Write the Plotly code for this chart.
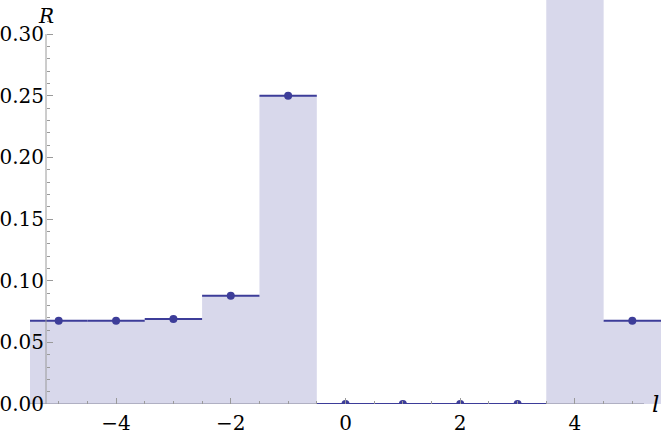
import plotly.graph_objects as go

# data
l_values = [-5, -4, -3, -2, -1, 0, 1, 2, 3, 4, 5]
R_values = [0.0675, 0.0675, 0.069, 0.0877, 0.25, 0.0, 0.0, 0.0, 0.0, 0.39, 0.0675]
x_tick_vals = [-4, -2, 0, 2, 4]
x_tick_text = ["\u22124", "\u22122", "0", "2", "4"]
y_tick_vals = [0.00, 0.05, 0.10, 0.15, 0.20, 0.25, 0.30]
y_tick_text = ["0.00", "0.05", "0.10", "0.15", "0.20", "0.25", "0.30"]

W, H = 661, 436
ML, MR, MT, MB = 30, 0, 0, 32
XR = [-5.5, 5.5]
YR = [0.0, 0.3276]

LINE = "#3d3d99"
FILL = "rgba(61,61,153,0.2)"
AXC = "#9a9a9a"
FONT = "DejaVu Serif"

fig = go.Figure()

# fill: stepped polygon
fx, fy = [], []
for l, v in zip(l_values, R_values):
    fx += [l - 0.5, l + 0.5]
    fy += [v, v]
fig.add_trace(go.Scatter(x=fx, y=fy, mode="lines", line=dict(width=0, color=FILL),
                         fill="tozeroy", fillcolor=FILL, hoverinfo="skip", showlegend=False))

# horizontal step segments
sx, sy = [], []
for l, v in zip(l_values, R_values):
    sx += [l - 0.5, l + 0.5, None]
    sy += [v, v, None]
fig.add_trace(go.Scatter(x=sx, y=sy, mode="lines", line=dict(width=2, color=LINE),
                         showlegend=False))

# points
fig.add_trace(go.Scatter(x=l_values, y=R_values, mode="markers",
                         marker=dict(size=8, color=LINE), showlegend=False))

ypos = (46 - ML) / (W - ML - MR)
y_axis_x = XR[0] + (46 - ML) / (W - ML - MR) * (XR[1] - XR[0])
x_axis_end = XR[0] + (644 - ML) / (W - ML - MR) * (XR[1] - XR[0])

tickfont = dict(family=FONT, size=20, color="black")

fig.update_layout(
    width=W, height=H,
    margin=dict(l=ML, r=MR, t=MT, b=MB, autoexpand=False),
    paper_bgcolor="white", plot_bgcolor="white",
    font=dict(family=FONT, size=20, color="black"),
    xaxis=dict(range=XR, showgrid=False, zeroline=False, showline=False, automargin=False,
               tickvals=x_tick_vals, ticktext=x_tick_text, tickfont=tickfont,
               ticks="inside", ticklen=6, tickcolor=AXC, tickwidth=1,
               minor=dict(dtick=0.5, tick0=0, ticks="inside", ticklen=3, tickcolor=AXC),
               ticklabelstandoff=5),
    yaxis=dict(range=YR, showgrid=False, zeroline=False, showline=False, automargin=False,
               anchor="free", position=ypos,
               tickvals=y_tick_vals, ticktext=y_tick_text, tickfont=tickfont,
               ticks="inside", ticklen=6, tickcolor=AXC, tickwidth=1,
               minor=dict(dtick=0.01, tick0=0, ticks="inside", ticklen=3, tickcolor=AXC),
               ticklabelstandoff=2),
    shapes=[
        dict(type="line", xref="x", yref="y", x0=y_axis_x, x1=y_axis_x, y0=0, y1=0.30,
             line=dict(color=AXC, width=1), layer="above"),
        dict(type="line", xref="x", yref="y", x0=XR[0], x1=x_axis_end, y0=0, y1=0,
             line=dict(color=AXC, width=1), layer="below"),
    ],
    annotations=[
        dict(text="<i>R</i>", xref="paper", yref="paper",
             x=(46 - ML) / (W - ML), y=(H - MB - 16) / (H - MB - MT),
             showarrow=False, font=dict(family=FONT, size=20), xanchor="center", yanchor="middle"),
        dict(text="<i>l</i>", xref="paper", yref="paper",
             x=(655 - ML) / (W - ML), y=(H - MB - 404) / (H - MB - MT),
             showarrow=False, font=dict(family=FONT, size=23), xanchor="center", yanchor="middle"),
    ],
)

html = fig.to_html(full_html=True, include_plotlyjs=True, config={"displayModeBar": False})
html = html.replace("<head>", "<head><style>html,body{margin:0;padding:0;overflow:hidden}</style>", 1)
with open("out.html", "w", encoding="utf-8") as f:
    f.write(html)
